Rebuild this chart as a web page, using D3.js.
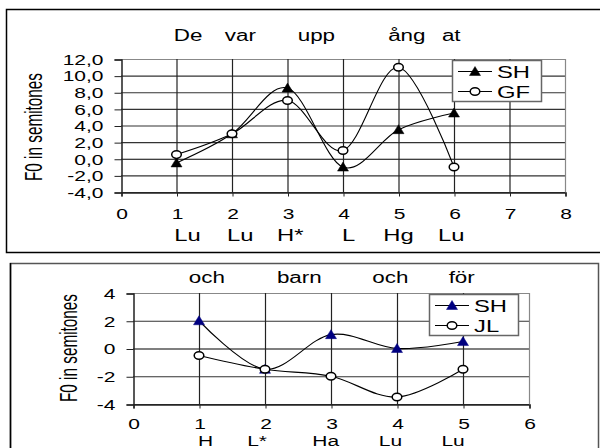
<!DOCTYPE html>
<html lang="en">
  <head>
    <meta charset="utf-8">
    <title>F0 contours</title>
    <script src="https://cdn.jsdelivr.net/npm/d3@7/dist/d3.min.js"></script>
    <style>
      body { margin: 0; background: #fff; }
      svg { display: block; font-family: 'Liberation Sans', Arial, sans-serif; }
    </style>
  </head>
  <body>
    <div id="chart"></div>

    <script type="text/javascript">
      // top chart data
      let top_x = [1, 2, 3, 4, 5, 6]
      let top_sh = [-0.5, 3.0, 8.5, -1.0, 3.5, 5.5]
      let top_gf = [0.5, 3.0, 7.0, 1.0, 11.0, -1.0]
      let top_words = ['De', 'var', 'upp', 'ång', 'at']
      let top_word_pos = [1.21, 2.15, 3.52, 5.15, 5.95]
      let top_tones = ['Lu', 'Lu', 'H*', 'L', 'Hg', 'Lu']
      let top_tone_pos = [1.2, 2.15, 3.05, 4.1, 5.0, 5.95]
      let top_yticks = [-4, -2, 0, 2, 4, 6, 8, 10, 12]
      let top_xticks = [0, 1, 2, 3, 4, 5, 6, 7, 8]

      // bottom chart data
      let bot_x = [1, 2, 3, 4, 5]
      let bot_sh = [2.0, -1.5, 1.0, 0.0, 0.5]
      let bot_jl = [-0.5, -1.5, -2.0, -3.5, -1.5]
      let bot_words = ['och', 'barn', 'och', 'för']
      let bot_word_pos = [1.12, 2.52, 3.9, 4.98]
      let bot_tones = ['H', 'L*', 'Ha', 'Lu', 'Lu']
      let bot_tone_pos = [1.1, 1.88, 2.92, 3.9, 4.85]
      let bot_yticks = [-4, -2, 0, 2, 4]
      let bot_xticks = [0, 1, 2, 3, 4, 5, 6]

      let stretch = 1.4

      let svg = d3.select('#chart').append('svg')
        .attr('width', 600)
        .attr('height', 448)

      // panel frames
      svg.append('rect')
        .attr('x', 6.5).attr('y', 9.5).attr('width', 600).attr('height', 243)
        .attr('fill', 'none').attr('stroke', '#000').attr('stroke-width', 1.5)
      svg.append('rect')
        .attr('x', 10.5).attr('y', 263.5).attr('width', 588).attr('height', 200)
        .attr('fill', 'none').attr('stroke', '#555').attr('stroke-width', 1.5)
      svg.append('line')
        .attr('x1', 10.5).attr('x2', 10.5).attr('y1', 263).attr('y2', 448)
        .attr('stroke', '#000').attr('stroke-width', 1.5)

      // wide text, like the scaled original
      function wideText(g, x, y, size, anchor, txt) {
        return g.append('text')
          .attr('transform', 'translate(' + x + ',' + y + ') scale(' + stretch + ',1)')
          .attr('text-anchor', anchor)
          .attr('font-size', size + 'px')
          .attr('fill', '#000')
          .text(txt)
      }

      function drawPanel(cfg) {
        let g = svg.append('g')
        let sx = d3.scaleLinear().domain(cfg.xdom).range(cfg.xr)
        let sy = d3.scaleLinear().domain(cfg.ydom).range(cfg.yr)

        // grid
        g.selectAll('.hgrid').data(cfg.yticks).enter().append('line')
          .attr('x1', cfg.xr[0]).attr('x2', cfg.xr[1])
          .attr('y1', d => sy(d) + 0.5).attr('y2', d => sy(d) + 0.5)
          .attr('stroke', d => d == cfg.ydom[1] ? '#888' : (d == 0 ? '#000' : '#333'))
          .attr('stroke-width', 1.2)
        g.selectAll('.vgrid').data(cfg.xticks.slice(1)).enter().append('line')
          .attr('x1', d => sx(d) + 0.5).attr('x2', d => sx(d) + 0.5)
          .attr('y1', cfg.yr[1]).attr('y2', cfg.yr[0])
          .attr('stroke', d => d == cfg.xdom[1] ? '#888' : '#222')
          .attr('stroke-width', 1.2)

        // axes
        let y_axis = d3.axisLeft(sy).tickValues(cfg.yticks).tickSize(7)
          .tickFormat(cfg.yfmt)
        let ya = g.append('g').attr('transform', 'translate(' + (cfg.xr[0] + 0.5) + ',0.5)').call(y_axis)
        let x_axis = d3.axisBottom(sx).tickValues(cfg.xticks).tickSize(4).tickPadding(cfg.xpad)
          .tickFormat(d3.format('d'))
        let xa = g.append('g').attr('transform', 'translate(0.5,' + (cfg.yr[0] + 0.5) + ')').call(x_axis)
        ;[ya, xa].forEach(a => {
          a.select('.domain').attr('stroke', '#222').attr('stroke-width', 1.5)
          a.selectAll('.tick line').attr('stroke', '#222')
          a.selectAll('text').attr('font-size', cfg.tickFont + 'px').attr('fill', '#000')
            .attr('font-family', 'Liberation Sans, Arial, sans-serif')
            .attr('transform', 'scale(' + stretch + ',1)')
        })
        ya.selectAll('text').attr('x', -cfg.ylabGap / stretch)

        // y title
        g.append('text')
          .attr('transform', 'translate(' + cfg.titleX + ',' + cfg.titleY + ') rotate(-90)')
          .attr('text-anchor', 'middle')
          .attr('font-size', '23px')
          .attr('textLength', 108)
          .attr('lengthAdjust', 'spacingAndGlyphs')
          .text('F0 in semitones')

        // words above
        cfg.words.forEach((w, i) => wideText(g, sx(cfg.wordPos[i]), cfg.wordY, 16, 'middle', w))

        // tone labels
        cfg.tones.forEach((t, i) => wideText(g, sx(cfg.tonePos[i]), cfg.toneY, cfg.toneFont, 'middle', t))

        // smoothed lines
        let line = d3.line()
          .x(d => sx(d[0])).y(d => sy(d[1]))
          .curve(d3.curveCardinal.tension(0))
        cfg.series.forEach(s => {
          g.append('path')
            .datum(cfg.x.map((x, i) => [x, s.values[i]]))
            .attr('d', line)
            .attr('fill', 'none')
            .attr('stroke', '#000')
            .attr('stroke-width', 1.1)
        })
        cfg.series.forEach(s => {
          drawMarkers(g, cfg.x.map((x, i) => [sx(x), sy(s.values[i])]), s)
        })

        // legend
        let lg = g.append('g').attr('transform', 'translate(' + cfg.legend[0] + ',' + cfg.legend[1] + ')')
        lg.append('rect')
          .attr('x', 0.5).attr('y', 0.5).attr('width', 89).attr('height', 41)
          .attr('fill', '#fff').attr('stroke', '#666').attr('stroke-width', 1.5)
        cfg.series.forEach((s, i) => {
          let yy = 11.5 + i * 20
          lg.append('line').attr('x1', 6).attr('x2', 40).attr('y1', yy).attr('y2', yy)
            .attr('stroke', '#000').attr('stroke-width', 1)
          drawMarkers(lg, [[23, yy]], s)
          wideText(lg, 45, yy + 6.5, 17, 'start', s.name)
        })
      }

      function drawMarkers(g, pts, s) {
        if (s.shape == 'tri') {
          g.selectAll(null).data(pts).enter().append('path')
            .attr('d', d => 'M' + d[0] + ',' + (d[1] - 5) + 'L' + (d[0] + 5.5) + ',' + (d[1] + 4) + 'L' + (d[0] - 5.5) + ',' + (d[1] + 4) + 'Z')
            .attr('fill', s.color).attr('stroke', s.color).attr('stroke-width', 0.5)
        } else {
          g.selectAll(null).data(pts).enter().append('ellipse')
            .attr('cx', d => d[0]).attr('cy', d => d[1])
            .attr('rx', 4.8).attr('ry', 3.8)
            .attr('fill', '#fff').attr('stroke', '#000').attr('stroke-width', 1.5)
        }
      }

      drawPanel({
        xdom: [0, 8], xr: [121, 565], ydom: [-4, 12], yr: [192, 59],
        x: top_x, xticks: top_xticks, yticks: top_yticks,
        yfmt: d => d3.format('.1f')(d).replace('.', ',').replace('\u2212', '-'),
        tickFont: 15, xpad: 12, ylabGap: 18,
        titleX: 42, titleY: 127,
        words: top_words, wordPos: top_word_pos, wordY: 41,
        tones: top_tones, tonePos: top_tone_pos, toneY: 241, toneFont: 17,
        series: [
          {name: 'SH', values: top_sh, shape: 'tri', color: '#000'},
          {name: 'GF', values: top_gf, shape: 'circle', color: '#000'}
        ],
        legend: [452, 60]
      })

      drawPanel({
        xdom: [0, 6], xr: [133, 529], ydom: [-4, 4], yr: [404, 293],
        x: bot_x, xticks: bot_xticks, yticks: bot_yticks,
        yfmt: d => d3.format('d')(d).replace('\u2212', '-'),
        tickFont: 15, xpad: 10, ylabGap: 18,
        titleX: 77, titleY: 348,
        words: bot_words, wordPos: bot_word_pos, wordY: 283,
        tones: bot_tones, tonePos: bot_tone_pos, toneY: 446, toneFont: 15,
        series: [
          {name: 'SH', values: bot_sh, shape: 'tri', color: '#000080'},
          {name: 'JL', values: bot_jl, shape: 'circle', color: '#000'}
        ],
        legend: [429, 294]
      })
    </script>
  </body>
</html>
